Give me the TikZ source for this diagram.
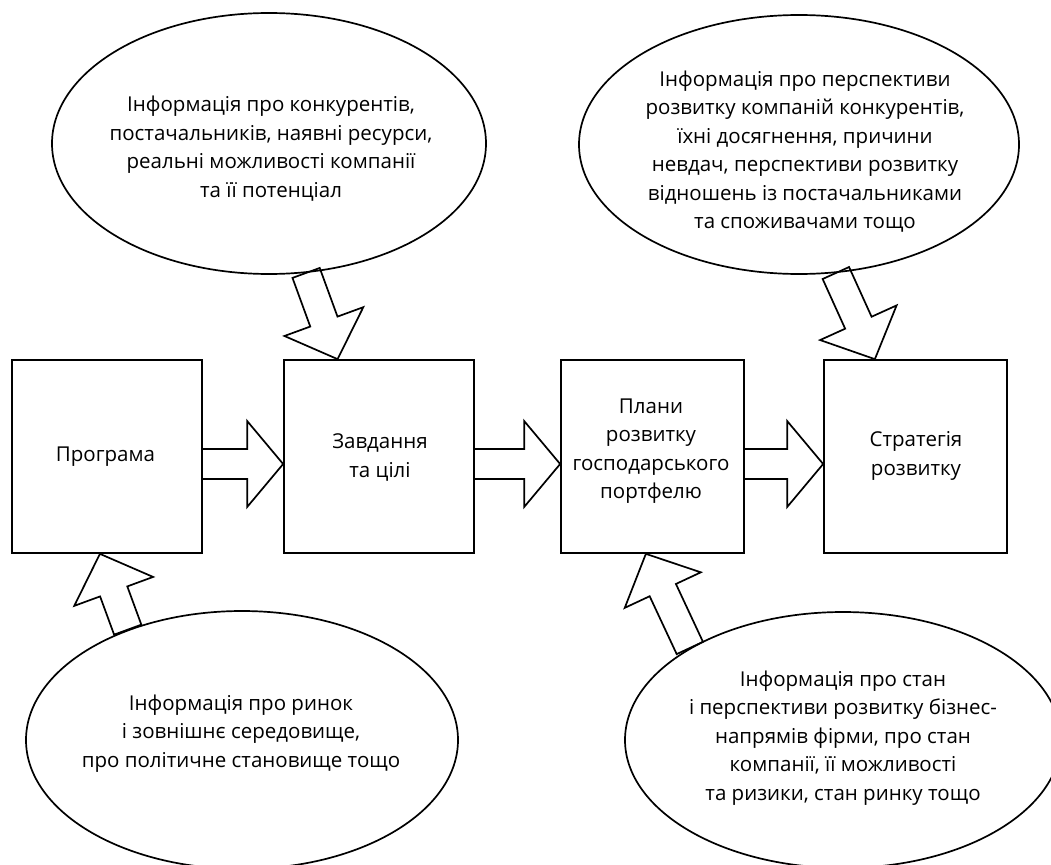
\documentclass[tikz,border=0pt]{standalone}
\usepackage{fontspec}
\setmainfont{Open Sans}
\usetikzlibrary{shapes.geometric,calc}
\newcommand\blockarr[2]{% #1 tail, #2 tip
  \coordinate (bh) at ($(#2)!40pt!(#1)$);
  \draw[barrow] ($(#1)!14.5pt!90:(#2)$) -- ($(bh)!14.5pt!90:(#2)$) -- ($(bh)!42pt!90:(#2)$) -- (#2)
    -- ($(bh)!42pt!-90:(#2)$) -- ($(bh)!14.5pt!-90:(#2)$) -- ($(#1)!14.5pt!-90:(#2)$) -- cycle;
}
\newcommand\harr[2]{% #1 start, #2 tip (horizontal)
  \draw[barrow] let \p1=(#1), \p2=(#2) in
    (\x1,\y1+15pt) -- (\x2-36pt,\y1+15pt) -- (\x2-36pt,\y1+43pt) -- (\x2,\y1)
    -- (\x2-36pt,\y1-43pt) -- (\x2-36pt,\y1-15pt) -- (\x1,\y1-15pt);
}
\tikzset{
  box/.style={draw, line width=1.7pt, minimum height=193pt, inner sep=0pt},
  oval/.style={draw, ellipse, line width=1.7pt, inner sep=0pt},
  txt/.style={align=center, inner sep=0pt, font=\fontsize{20.5}{28.5}\selectfont},
  barrow/.style={draw, line width=1.7pt, line join=miter},
}
\begin{document}
\begin{tikzpicture}[x=1pt,y=-1pt]
\useasboundingbox (0,0) rectangle (1051,864);
\clip (0,0) rectangle (1051,864);
% boxes
\node[box, minimum width=190pt] (prog) at (107,456.5) {};
\node[box, minimum width=190pt] (zavd) at (379,456.5) {};
\node[box, minimum width=183pt] (plan) at (652.5,456.5) {};
\node[box, minimum width=183pt] (strat) at (915.5,456.5) {};
\node[txt] (tprog) at (105.5,457) {Програма};
\node[txt] (tzavd) at (380,457.5) {Завдання\\та цілі};
\node[txt] (tplan) at (651,451) {Плани\\розвитку\\господарського\\портфелю};
\node[txt] (tstrat) at (916,456) {Стратегія\\розвитку};
% ellipses
\node[oval, minimum width=434pt, minimum height=261pt] (e1) at (269,143.5) {};
\node[oval, minimum width=440pt, minimum height=259pt] (e2) at (799,144.5) {};
\node[oval, minimum width=432pt, minimum height=258pt] (e3) at (242,740) {};
\node[oval, minimum width=436pt, minimum height=256pt] (e4) at (843,740) {};
% ellipse texts
\node[txt] (t1) at (271,148.5)
  {Інформація про конкурентів,\\постачальників, наявні ресурси,\\реальні можливості компанії\\та її потенціал};
\node[txt] (t2) at (805,151.5)
  {Інформація про перспективи\\розвитку компаній конкурентів,\\їхні досягнення, причини\\невдач, перспективи розвитку\\відношень із постачальниками\\та споживачами тощо};
\node[txt] (t3) at (241,733.5)
  {Інформація про ринок\\і зовнішнє середовище,\\про політичне становище тощо};
\node[txt] (t4) at (843,738)
  {Інформація про стан\\і перспективи розвитку бізнес-\\напрямів фірми, про стан\\компанії, її можливості\\та ризики, стан ринку тощо};
% horizontal block arrows
\harr{$(prog.east)+(0,7.5)$}{$(zavd.west)+(0,7.5)$}
\harr{$(zavd.east)+(0,7.5)$}{$(plan.west)+(0,7.5)$}
\harr{$(plan.east)+(0,7.5)$}{$(strat.west)+(0,7.5)$}
% diagonal block arrows
\coordinate (a1t) at (e1.-74);
\coordinate (a1p) at ($(zavd.north west)!0.284!(zavd.north east)$);
\blockarr{a1t}{a1p}
\coordinate (a2t) at (e2.-74);
\coordinate (a2p) at ($(strat.north west)!0.28!(strat.north east)$);
\blockarr{a2t}{a2p}
\coordinate (a3t) at (e3.136);
\coordinate (a3p) at ($(prog.south west)!0.463!(prog.south east)$);
\blockarr{a3t}{a3p}
\coordinate (a4t) at (e4.149);
\coordinate (a4p) at ($(plan.south west)!0.464!(plan.south east)$);
\blockarr{a4t}{a4p}
\end{tikzpicture}
\end{document}
